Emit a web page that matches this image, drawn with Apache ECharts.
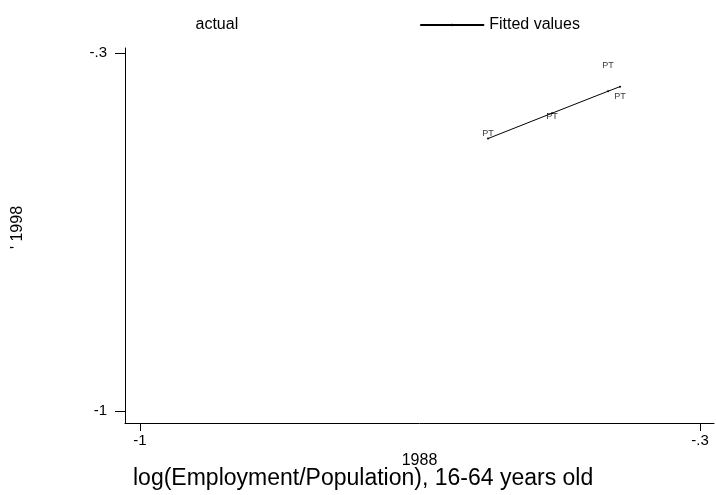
<!DOCTYPE html>
<html><head><meta charset="utf-8">
<script src="https://cdn.jsdelivr.net/npm/echarts@6/dist/echarts.min.js"></script>
<style>html,body{margin:0;padding:0;background:#fff}#c{width:716px;height:495px}</style>
</head><body><div id="c"></div>
<script>
var countries = ["PT", "PT", "PT", "PT"];
var emp1988 = [-0.565, -0.485, -0.415, -0.400];
var actual1998 = [-0.457, -0.425, -0.324, -0.386];
var fitted1998 = [-0.4675, -0.418, -0.375, -0.366];
var xTickValues = [-1, -0.3];
var xTickLabels = ["-1", "-.3"];
var yTickValues = [-1, -0.3];
var yTickLabels = ["-1", "-.3"];

function lab(vals, labels) {
  return function (v) {
    for (var i = 0; i < vals.length; i++) if (Math.abs(vals[i] - v) < 1e-9) return labels[i];
    return '';
  };
}
var font = 'Liberation Sans, Arial, sans-serif';
var chart = echarts.init(document.getElementById('c'), null, {renderer: 'canvas'});
var scatterData = emp1988.map(function (x, i) { return [x, actual1998[i], countries[i]]; });
var fitData = emp1988.map(function (x, i) { return [x, fitted1998[i]]; })
  .sort(function (a, b) { return a[0] - b[0]; });
chart.setOption({
  animation: false,
  backgroundColor: '#fff',
  textStyle: {fontFamily: font},
  grid: {left: 125, right: 2, top: 48, bottom: 72, containLabel: false},
  title: {
    text: 'log(Employment/Population), 16-64 years old',
    left: 128, top: 462,
    textStyle: {fontFamily: font, fontSize: 23, fontWeight: 'normal', color: '#000'}
  },
  legend: {
    left: 152, top: 12, itemGap: 181, itemWidth: 64, itemHeight: 3,
    textStyle: {fontFamily: font, fontSize: 16, color: '#000'},
    data: [
      {name: 'actual', itemStyle: {opacity: 0}},
      {name: 'Fitted values'}
    ]
  },
  xAxis: {
    type: 'value', min: -1.01875, max: -0.2825,
    name: '1988', nameLocation: 'middle', nameGap: 28,
    nameTextStyle: {fontFamily: font, fontSize: 16, color: '#000'},
    splitLine: {show: false},
    axisLine: {show: true, onZero: false, lineStyle: {color: '#000', width: 1}},
    axisTick: {show: true, length: 8, lineStyle: {color: '#000'}, customValues: xTickValues},
    axisLabel: {fontFamily: font, fontSize: 15, color: '#000', margin: 10, customValues: xTickValues, formatter: lab(xTickValues, xTickLabels)}
  },
  yAxis: {
    type: 'value', min: -1.0235, max: -0.2905,
    name: "' 1998", nameLocation: 'middle', nameGap: 99, nameRotate: 90,
    nameTextStyle: {fontFamily: font, fontSize: 16, color: '#000', padding: [0, 0, 0, 16]},
    splitLine: {show: false},
    axisLine: {show: true, onZero: false, lineStyle: {color: '#000', width: 1}},
    axisTick: {show: true, length: 10, lineStyle: {color: '#000'}, customValues: yTickValues},
    axisLabel: {fontFamily: font, fontSize: 15, color: '#000', margin: 18, customValues: yTickValues, formatter: lab(yTickValues, yTickLabels)}
  },
  series: [
    {
      name: 'actual', type: 'scatter', data: scatterData,
      symbolSize: 1, itemStyle: {color: 'rgba(0,0,0,0)'},
      label: {show: true, position: 'inside', formatter: function (p) { return p.data[2]; },
        fontFamily: font, fontSize: 9, color: '#000'}
    },
    {
      name: 'Fitted values', type: 'line', data: fitData,
      symbol: 'circle', symbolSize: 2, showSymbol: true,
      itemStyle: {color: '#000'},
      lineStyle: {color: '#000', width: 1}
    }
  ]
});
</script></body></html>
